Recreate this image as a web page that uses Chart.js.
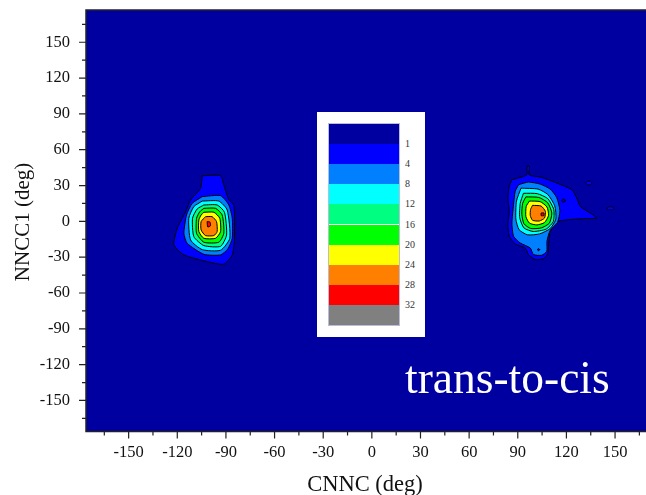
<!DOCTYPE html>
<html lang="en">
<head>
<meta charset="UTF-8">
<title>trans-to-cis</title>
<script src="https://cdn.jsdelivr.net/npm/chart.js"></script>
<style>
  html, body { margin: 0; padding: 0; background: #fff; overflow: hidden; }
  #wrap { position: relative; width: 700px; height: 495px; }
  #chart { position: absolute; left: 0; top: 0; }
  #scale { position: absolute; left: 317px; top: 112px; width: 108px; height: 225px; background: #fff; }
  #bar { position: absolute; left: 12px; top: 12px; width: 70px; height: 201px; outline: 1px solid #b8bcd8; }
  .band { position: absolute; left: 0; width: 70px; height: 20.1px; }
  .lvl { position: absolute; left: 88px; font: 10px "Liberation Serif", serif; color: #333; line-height: 10px; }
  #tag { position: absolute; left: 405px; top: 355px; font: 45.5px "Liberation Serif", serif; color: #fff; line-height: 45px; white-space: nowrap; }
</style>
</head>
<body>
<div id="wrap">
  <canvas id="chart" width="700" height="495"></canvas>
  <div id="scale"><div id="bar"></div></div>
  <div id="tag">trans-to-cis</div>
</div>
<script>
// colour levels of the contour map
const levels = [1, 4, 8, 12, 16, 20, 24, 28, 32];
const levelColors = ['#0000A0', '#0000FF', '#0080FF', '#00FFFF', '#00FF80', '#00FF00', '#FFFF00', '#FF8000', '#FF0000', '#808080'];

// axis ticks (deg)
const majorTicks = [-150, -120, -90, -60, -30, 0, 30, 60, 90, 120, 150];
const minorTicks = [-165, -135, -105, -75, -45, -15, 15, 45, 75, 105, 135, 165];
const xTitle = 'CNNC (deg)';
const yTitle = 'NNCC1 (deg)';

// contour outlines, [CNNC, NNCC1]
// left basin (CNNC ~ -100)
const left1 = [[-104.6,38.2],[-93.3,38.2],[-91.3,30.4],[-88.2,17.9],[-85.1,13.7],[-84.7,-14.2],[-86.1,-28.1],[-91.3,-35.9],[-101.6,-33.7],[-115.9,-28.1],[-122.1,-19.7],[-120.0,-5.8],[-114.9,8.1],[-111.8,17.9],[-105.7,27.6]];
const left4 = [[-104.6,20.7],[-93.3,21.5],[-88.2,13.7],[-86.1,2.6],[-86.1,-14.2],[-88.8,-23.1],[-93.3,-28.1],[-103.6,-27.6],[-113.9,-18.4],[-115.9,-10.0],[-114.3,5.3],[-110.8,15.1]];
const left8 = [[-104.6,17.0],[-94.4,17.0],[-89.2,9.5],[-87.6,-14.2],[-93.3,-24.2],[-104.6,-23.7],[-111.8,-15.6],[-112.9,2.6],[-109.8,12.3]];
const left12 = [[-103.6,13.7],[-95.4,13.7],[-90.9,7.6],[-89.6,-11.4],[-93.3,-20.9],[-103.6,-20.3],[-109.8,-12.8],[-110.6,2.6],[-107.7,10.4]];
const left16 = [[-103.6,10.9],[-96.4,10.9],[-92.3,5.3],[-91.3,-10.0],[-94.4,-17.5],[-103.6,-17.5],[-108.1,-10.0],[-108.1,2.6],[-106.1,8.1]];
const left20 = [[-103.6,7.6],[-97.4,7.6],[-93.8,2.6],[-93.3,-8.6],[-96.4,-14.2],[-103.6,-14.2],[-106.7,-8.6],[-106.7,1.2],[-105.3,5.3]];
const left24 = [[-102.6,3.9],[-98.5,3.9],[-95.8,-0.2],[-95.4,-8.6],[-97.4,-11.9],[-102.6,-11.9],[-105.3,-7.2],[-105.3,-0.2]];
const left28 = [[-101.6,-0.2],[-99.9,-0.5],[-99.5,-3.6],[-101.2,-4.7]];

// right basin (CNNC ~ +100)
const right1 = [[86.4,34.9],[91.5,36.8],[95.6,39.0],[95.6,46.0],[97.2,46.0],[97.0,39.0],[104.8,36.8],[114.1,32.1],[123.3,26.5],[126.4,19.5],[128.5,12.6],[134.6,7.0],[138.7,2.8],[131.6,2.3],[121.3,1.4],[114.1,-0.5],[110.0,-8.3],[109.0,-19.5],[108.5,-27.3],[105.9,-31.2],[100.7,-32.0],[96.6,-27.8],[94.6,-22.3],[88.4,-18.9],[84.7,-12.5],[83.9,-2.8],[84.7,8.4],[83.9,19.5],[84.7,29.3]];
const right4 = [[90.5,30.7],[96.6,32.9],[103.8,31.2],[110.0,27.0],[114.0,20.0],[116.0,9.0],[114.5,-1.0],[110.0,-7.5],[108.0,-16.7],[107.9,-25.1],[104.8,-28.4],[99.7,-27.8],[97.7,-22.3],[91.5,-18.1],[87.4,-12.5],[86.4,-1.4],[87.4,14.0],[88.4,25.1]];
const right8 = [[92.0,27.8],[102.5,27.0],[108.5,22.5],[112.8,13.0],[113.5,2.0],[110.0,-6.0],[103.5,-10.5],[96.0,-11.3],[90.8,-7.0],[88.8,2.0],[89.2,17.0]];
const right12 = [[93.5,23.5],[102.0,23.2],[108.5,19.0],[112.2,10.0],[112.0,0.0],[107.5,-6.5],[99.5,-8.5],[93.8,-5.5],[91.2,3.0],[91.5,15.0]];
const right16 = [[95.0,20.5],[103.0,20.0],[108.5,15.5],[111.0,7.0],[109.5,-1.5],[104.5,-5.5],[98.0,-6.0],[93.8,-2.0],[92.5,6.0],[93.0,15.0]];
const right20 = [[97.2,17.0],[103.8,16.5],[108.0,12.0],[109.0,5.0],[106.5,-1.0],[101.8,-3.0],[97.2,-1.5],[95.0,4.0],[95.2,12.5]];
const right24 = [[99.1,13.4],[104.4,12.8],[107.0,8.4],[106.5,2.8],[103.3,0.3],[99.1,0.9],[97.7,5.0],[97.9,10.0]];
const right28 = [[104.4,7.0],[106.1,7.0],[106.1,4.8],[104.4,4.8]];

// small islands
const isleA = [[131.8,32.1],[132.8,33.5],[134.8,33.5],[135.8,32.1],[134.8,30.7],[132.8,30.7]];
const isleB = [[144.9,10.9],[146.0,12.1],[148.4,12.1],[149.5,10.9],[148.4,9.7],[146.0,9.7]];
const holeA = [[117.0,17.3],[117.8,18.5],[118.8,18.5],[119.4,17.3],[118.8,16.1],[117.8,16.1]];
const holeB = [[102.0,-23.7],[102.8,-22.8],[103.6,-23.7],[102.8,-24.6]];

const contours = [
  [left1, 1], [left4, 2], [left8, 3], [left12, 4], [left16, 5], [left20, 6], [left24, 7], [left28, 8],
  [right1, 1], [right4, 2], [right8, 3], [right12, 4], [right16, 5], [right20, 6], [right24, 7], [right28, 8],
  [isleA, 1], [isleB, 1]
];
const holes = [holeA, holeB];

function polygon(pts, color, order) {
  return {
    data: pts.concat([pts[0]]).map(p => ({x: p[0], y: p[1]})),
    showLine: true,
    fill: 'shape',
    backgroundColor: color,
    borderColor: '#000',
    borderWidth: 1,
    borderJoinStyle: 'round',
    pointRadius: 0,
    tension: 0.2,
    order: order
  };
}

const datasets = contours.map(c => polygon(c[0], levelColors[c[1]], 20 - c[1]))
  .concat(holes.map(h => polygon(h, levelColors[0], 5)));

const allTicks = majorTicks.concat(minorTicks).sort((a, b) => a - b);

const frame = {
  id: 'frame',
  beforeDraw(chart) {
    const {ctx, chartArea: a} = chart;
    ctx.save();
    ctx.fillStyle = levelColors[0];
    ctx.fillRect(a.left, a.top, a.right - a.left, a.bottom - a.top);
    ctx.restore();
  },
  afterDraw(chart) {
    const {ctx, chartArea: a, scales} = chart;
    ctx.save();
    ctx.strokeStyle = '#222';
    ctx.lineWidth = 1.5;
    ctx.beginPath();
    ctx.moveTo(a.right, a.top);
    ctx.lineTo(a.left, a.top);
    ctx.lineTo(a.left, a.bottom);
    ctx.lineTo(a.right, a.bottom);
    ctx.stroke();

    ctx.lineWidth = 1.2;
    ctx.beginPath();
    allTicks.forEach(v => {
      const len = majorTicks.includes(v) ? 7 : 4;
      const x = scales.x.getPixelForValue(v);
      ctx.moveTo(x, a.bottom);
      ctx.lineTo(x, a.bottom + len);
      const y = scales.y.getPixelForValue(v);
      ctx.moveTo(a.left, y);
      ctx.lineTo(a.left - len, y);
    });
    ctx.stroke();

    // axis titles
    ctx.fillStyle = '#111';
    ctx.textAlign = 'center';
    ctx.textBaseline = 'alphabetic';
    ctx.font = '22.5px "Liberation Serif", serif';
    ctx.fillText(xTitle, 365, 491);
    ctx.translate(28.5, 222);
    ctx.rotate(-Math.PI / 2);
    ctx.font = '21px "Liberation Serif", serif';
    ctx.fillText(yTitle, 0, 0);
    ctx.restore();
  }
};

const tickFont = {family: '"Liberation Serif", serif', size: 16.5};

new Chart(document.getElementById('chart'), {
  type: 'scatter',
  data: {datasets: datasets},
  options: {
    responsive: false,
    animation: false,
    events: [],
    layout: {padding: {left: 0, top: 10, right: 42.3, bottom: 0}},
    plugins: {legend: {display: false}, tooltip: {enabled: false}},
    scales: {
      x: {
        type: 'linear', min: -176.3, max: 176.3,
        afterFit: s => { s.height = 63.5; s.paddingLeft = 0; s.paddingRight = 0; },
        afterBuildTicks: s => { s.ticks = allTicks.map(v => ({value: v})); },
        grid: {drawOnChartArea: false, drawTicks: true, tickLength: 7, tickColor: 'rgba(0,0,0,0)'},
        border: {display: false},
        ticks: {autoSkip: false, maxRotation: 0, padding: 4, color: '#111', font: tickFont,
          callback: v => majorTicks.includes(v) ? String(v) : ''}
      },
      y: {
        type: 'linear', min: -176, max: 177,
        afterFit: s => { s.width = 86; s.paddingTop = 0; s.paddingBottom = 0; },
        afterBuildTicks: s => { s.ticks = allTicks.map(v => ({value: v})); },
        grid: {drawOnChartArea: false, drawTicks: true, tickLength: 7, tickColor: 'rgba(0,0,0,0)'},
        border: {display: false},
        ticks: {autoSkip: false, padding: 9, color: '#111', font: tickFont,
          callback: v => majorTicks.includes(v) ? String(v) : ''}
      }
    }
  },
  plugins: [frame]
});

// colour scale box
const bar = document.getElementById('bar');
levelColors.forEach((c, i) => {
  const b = document.createElement('div');
  b.className = 'band';
  b.style.top = (i * 20.1) + 'px';
  b.style.background = c;
  bar.appendChild(b);
});
const box = document.getElementById('scale');
levels.forEach((l, i) => {
  const t = document.createElement('div');
  t.className = 'lvl';
  t.textContent = l;
  t.style.top = (12 + (i + 1) * 20.1 - 5) + 'px';
  box.appendChild(t);
});
</script>
</body>
</html>
